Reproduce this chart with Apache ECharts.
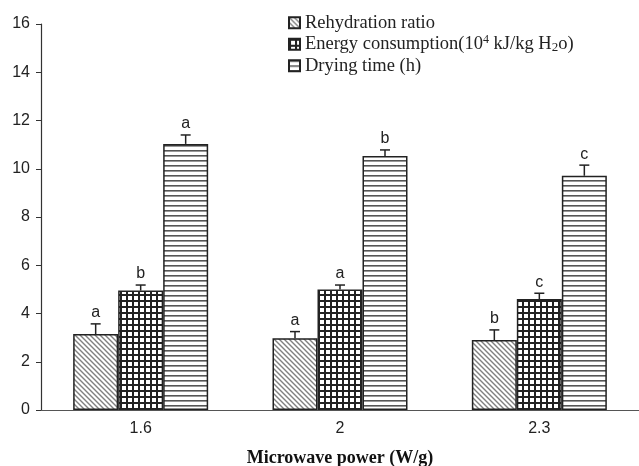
<!DOCTYPE html>
<html>
<head>
<meta charset="utf-8">
<script src="https://cdn.jsdelivr.net/npm/echarts@6/dist/echarts.min.js"></script>
<style>html,body{margin:0;padding:0;background:#fff}#c{width:639px;height:466px}</style>
</head>
<body>
<div id="c"></div>
<script>
const categories = ['1.6', '2', '2.3'];
const rehydration = [3.15, 2.97, 2.9];
const rehydrationErr = [0.42, 0.28, 0.42];
const rehydrationLetters = ['a', 'a', 'b'];
const energy = [4.95, 5.0, 4.6];
const energyErr = [0.23, 0.18, 0.24];
const energyLetters = ['b', 'a', 'c'];
const drying = [11.03, 10.53, 9.71];
const dryingErr = [0.37, 0.25, 0.44];
const dryingLetters = ['a', 'b', 'c'];
const yTicks = [0, 2, 4, 6, 8, 10, 12, 14, 16];

function makePattern(kind) {
  const c = document.createElement('canvas');
  const ctx = c.getContext('2d');
  if (kind === 'diag') {
    c.width = 5; c.height = 5;
    ctx.fillStyle = '#fff'; ctx.fillRect(0, 0, 5, 5);
    ctx.strokeStyle = '#808080'; ctx.lineWidth = 1.4;
    ctx.beginPath();
    ctx.moveTo(-1, -1); ctx.lineTo(6, 6);
    ctx.moveTo(-1, 4); ctx.lineTo(1, 6);
    ctx.moveTo(4, -1); ctx.lineTo(6, 1);
    ctx.stroke();
  } else if (kind === 'grid') {
    c.width = 6; c.height = 6;
    ctx.fillStyle = '#fff'; ctx.fillRect(0, 0, 6, 6);
    ctx.fillStyle = '#222';
    ctx.fillRect(0, 0, 2, 6);
    ctx.fillRect(0, 0, 6, 2);
  } else {
    c.width = 5; c.height = 5;
    ctx.fillStyle = '#fff'; ctx.fillRect(0, 0, 5, 5);
    ctx.fillStyle = '#555';
    ctx.fillRect(0, 0, 5, 1.6);
  }
  return { image: c, repeat: 'repeat' };
}

const BW = 45;
function errSeries(vals, errs, letters, idx) {
  return {
    type: 'custom',
    z: 5,
    data: vals.map((v, i) => [i, v, errs[i]]),
    renderItem: function (params, api) {
      const p = api.coord([api.value(0), api.value(1)]);
      const t = api.coord([api.value(0), api.value(1) + api.value(2)]);
      const x = p[0] + (idx - 1) * BW;
      const letter = letters[params.dataIndex];
      return {
        type: 'group',
        children: [
          { type: 'line', shape: { x1: x, y1: p[1], x2: x, y2: t[1] }, style: { stroke: '#222', lineWidth: 1.5 } },
          { type: 'line', shape: { x1: x - 5, y1: t[1], x2: x + 5, y2: t[1] }, style: { stroke: '#222', lineWidth: 1.5 } },
          { type: 'text', style: { text: letter, x: x, y: t[1] - 3, textAlign: 'center', textVerticalAlign: 'bottom', font: '16px "Liberation Sans", Arial, sans-serif', fill: '#222' } }
        ]
      };
    }
  };
}

const chart = echarts.init(document.getElementById('c'));
const barStyle = (k) => ({ color: makePattern(k), borderColor: '#222', borderWidth: 1.5 });
const serif = '"Liberation Serif", "Times New Roman", serif';
chart.setOption({
  animation: false,
  backgroundColor: '#fff',
  grid: { left: 41, right: 0, top: 24, bottom: 56, containLabel: false, outerBoundsMode: 'none' },
  legend: {
    orient: 'vertical',
    left: 283,
    top: 7,
    itemWidth: 11,
    itemHeight: 11,
    itemGap: 0,
    icon: 'rect',
    data: ['Rehydration ratio', 'Energy consumption', 'Drying time (h)'],
    formatter: function (name) {
      if (name === 'Energy consumption') return 'Energy consumption(10{sup|4} kJ/kg H{sub|2}o)';
      return name;
    },
    textStyle: {
      fontFamily: serif,
      fontSize: 18.5,
      lineHeight: 21.5,
      color: '#222',
      rich: {
        sup: { fontSize: 12, lineHeight: 21.5, verticalAlign: 'top', padding: [0, 0, 7, 0], fontFamily: serif, color: '#222' },
        sub: { fontSize: 13, lineHeight: 21.5, padding: [6, 0, 0, 0], fontFamily: serif, color: '#222' }
      }
    }
  },
  xAxis: {
    type: 'category',
    data: categories,
    axisLine: { lineStyle: { color: '#555', width: 1.2 } },
    axisTick: { inside: true, length: 5, lineStyle: { color: '#555' } },
    axisLabel: { fontSize: 16, color: '#222', margin: 11, fontFamily: '"Liberation Sans", Arial, sans-serif' },
    name: 'Microwave power (W/g)',
    nameLocation: 'middle',
    nameGap: 39,
    nameTextStyle: { fontSize: 18, fontWeight: 'bold', color: '#111', fontFamily: serif }
  },
  yAxis: {
    type: 'value',
    min: yTicks[0],
    max: yTicks[yTicks.length - 1],
    interval: 2,
    splitLine: { show: false },
    axisLine: { show: true, lineStyle: { color: '#333', width: 1.2 } },
    axisTick: { show: true, length: 5, lineStyle: { color: '#333' } },
    axisLabel: { fontSize: 16, color: '#222', margin: 11, fontFamily: '"Liberation Sans", Arial, sans-serif' }
  },
  series: [
    { name: 'Rehydration ratio', type: 'bar', data: rehydration, barWidth: BW, barGap: '0%', itemStyle: barStyle('diag') },
    { name: 'Energy consumption', type: 'bar', data: energy, barWidth: BW, barGap: '0%', itemStyle: barStyle('grid') },
    { name: 'Drying time (h)', type: 'bar', data: drying, barWidth: BW, barGap: '0%', itemStyle: barStyle('horiz') },
    errSeries(rehydration, rehydrationErr, rehydrationLetters, 0),
    errSeries(energy, energyErr, energyLetters, 1),
    errSeries(drying, dryingErr, dryingLetters, 2)
  ]
});
</script>
</body>
</html>
